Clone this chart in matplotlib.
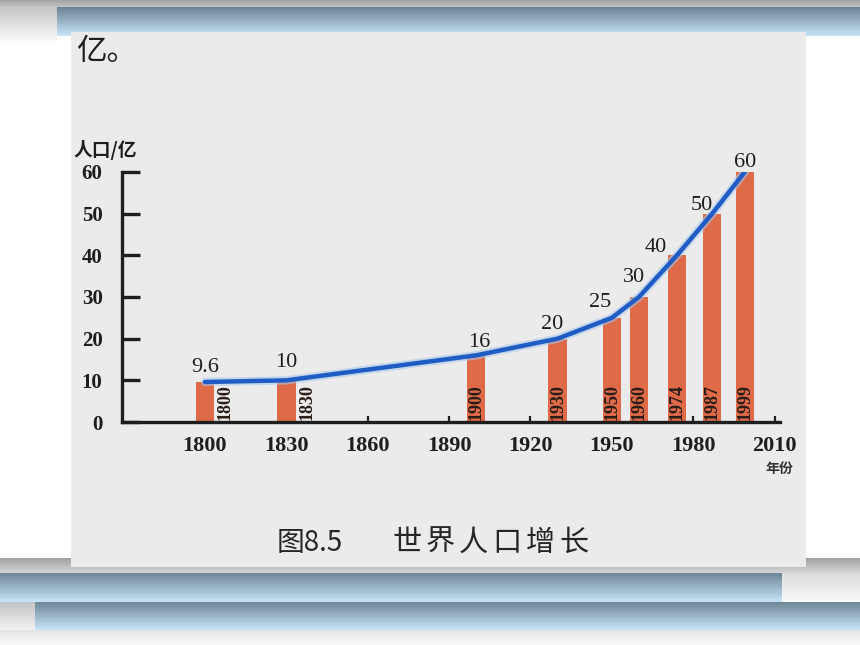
import numpy as np
import matplotlib
matplotlib.use("Agg")
import matplotlib.pyplot as plt
from matplotlib.colors import to_rgb

# ---------------- data ----------------
years = [1800, 1830, 1900, 1930, 1950, 1960, 1974, 1987, 1999]
population = [9.6, 10, 16, 20, 25, 30, 40, 50, 60]
value_labels = ["9.6", "10", "16", "20", "25", "30", "40", "50", "60"]
year_labels = ["1800", "1830", "1900", "1930", "1950", "1960", "1974", "1987", "1999"]
x_ticks = [1800, 1830, 1860, 1890, 1920, 1950, 1980, 2010]
y_ticks = [0, 10, 20, 30, 40, 50, 60]
caption_num = "图8.5"
caption_title = "世界人口增长"

# label offsets (pixels) for value labels, style only
label_dx = [0, 0, 3, -5, -12, -5, -21, -10, 0]
label_dy = [15, 18, 13, 14, 15, 19, 8, 8, 9]

W, H = 860, 645
fig = plt.figure(figsize=(W / 100, H / 100), dpi=100)
fig.patch.set_facecolor("white")

# ---------------- slide background ----------------
bg = fig.add_axes([0, 0, 1, 1])
bg.set_xlim(0, W)
bg.set_ylim(H, 0)
bg.axis("off")


def grad(x0, x1, y0, y1, ctop, cbot, z=0):
    a = np.array(to_rgb(ctop))
    b = np.array(to_rgb(cbot))
    t = np.linspace(0, 1, 64)[:, None]
    img = (a * (1 - t) + b * t)[:, None, :]
    bg.imshow(img, extent=(x0, x1, y1, y0), aspect="auto", origin="upper",
              interpolation="bilinear", zorder=z)


grad(0, W, 0, 7, "#a2a2a2", "#c2c2c2")
grad(0, 57, 7, 45, "#c6c6c6", "#ffffff")
grad(57, W, 7, 36, "#6d8494", "#c6e5f8", z=1)
grad(0, W, 558, 573, "#a0a0a0", "#d6d6d6")
grad(782, W, 573, 602, "#dcdcdc", "#fafafa")
grad(0, 782, 573, 602, "#6f8797", "#c6e5f8", z=1)
grad(0, 35, 602, 630, "#c4c4c4", "#f2f2f2")
grad(35, W, 602, 630, "#6f8797", "#c6e5f8", z=1)
grad(0, W, 630, H, "#e2e2e2", "#fbfbfb")

# scanned page area
scan = fig.add_axes([71 / W, 1 - 567 / H, (806 - 71) / W, (567 - 32) / H])
scan.set_xlim(71, 806)
scan.set_ylim(567, 32)
scan.set_facecolor("#ebebeb")
for s in scan.spines.values():
    s.set_visible(False)
scan.set_xticks([])
scan.set_yticks([])

cjk = ["Noto Sans CJK SC", "DejaVu Sans"]
serif = ["Liberation Serif", "DejaVu Serif"]
ink = "#1e1e1e"

scan.text(76, 52, "亿。", family=cjk, fontsize=22, color=ink, va="center", ha="left",
          clip_on=True)
scan.text(137, 150, "人口/亿", family=cjk, fontsize=13.5, fontweight="bold", color=ink,
          va="center", ha="right", clip_on=True)
scan.text(779, 469, "年份", family=cjk, fontsize=10, fontweight="bold", color="#333333",
          va="center", ha="center")
scan.text(277, 543, caption_num, family=cjk, fontsize=20, fontweight="medium",
          color="#262626", va="center", ha="left")
for i, ch in enumerate(caption_title):
    scan.text(407 + i * 33.4, 543, ch, family=cjk, fontsize=21, fontweight="medium",
              color="#262626", va="center", ha="center")

# ---------------- chart ----------------
ax = fig.add_axes([122 / W, 1 - 422 / H, (780 - 122) / W, 250 / H])
ax.patch.set_alpha(0)
ax.set_xlim(1769.4, 2012)
ax.set_ylim(0, 60)

bar_color = "#de6a48"
ax.bar(years, population, width=6.8, color=bar_color, zorder=2)

ax.plot(years, population, color="#a9c8ee", lw=6.0, solid_capstyle="round",
        solid_joinstyle="round", zorder=3, alpha=0.6)
ax.plot(years, population, color="#1f5cc4", lw=3.2, solid_capstyle="round",
        solid_joinstyle="round", zorder=4)

for yr, v, lab, dx, dy in zip(years, population, value_labels, label_dx, label_dy):
    ax.annotate(lab, (yr, v), xytext=(dx * 0.72, dy * 0.72), textcoords="offset points",
                ha="center", va="center", family=serif, fontsize=16, color=ink, zorder=5)

for yr, lab in zip(years, year_labels):
    xoff = 7.5 if yr < 1850 else 0
    ax.text(yr + xoff, 0.6, lab, rotation=90, ha="center", va="bottom",
            family=serif, fontsize=13, fontweight="bold", color="#2b1d18", zorder=5)

for side in ["top", "right"]:
    ax.spines[side].set_visible(False)
for side in ["left", "bottom"]:
    ax.spines[side].set_linewidth(2.4)
    ax.spines[side].set_color(ink)

ax.set_xticks(x_ticks)
ax.set_xticklabels([str(t) for t in x_ticks])
ax.set_yticks(y_ticks)
ax.set_yticklabels([str(t) for t in y_ticks])
ax.tick_params(axis="y", direction="in", length=13, width=2.4, color=ink, pad=14,
               labelsize=15)
ax.tick_params(axis="x", direction="in", length=4, width=1.6, color=ink, pad=10,
               labelsize=16)
for t in ax.get_xticklabels() + ax.get_yticklabels():
    t.set_family(serif)
    t.set_fontweight("bold")
    t.set_color(ink)

fig.savefig("out.png", dpi=100)
